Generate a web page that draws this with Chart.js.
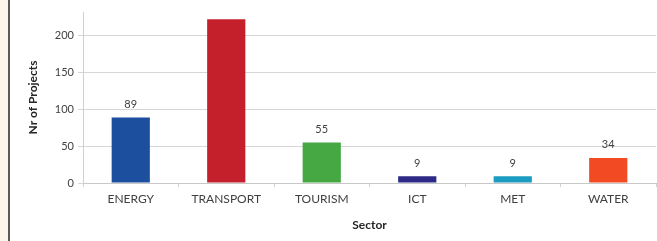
<!DOCTYPE html>
<html>
<head>
<meta charset="utf-8">
<script src="https://cdn.jsdelivr.net/npm/chart.js@4.4.0/dist/chart.umd.min.js"></script>
<style>
  html, body { margin: 0; padding: 0; background: #fff; }
  #wrap { position: relative; width: 657px; height: 241px; overflow: hidden; }
  #strip { position: absolute; left: 0; top: 0; width: 8px; height: 241px; background: #fdf5ea; border-right: 2px solid #595959; }
  #box { position: absolute; left: 10px; top: 0; width: 647px; height: 241px; }
</style>
</head>
<body>
<div id="wrap">
  <div id="strip"></div>
  <div id="box"><canvas id="chart"></canvas></div>
</div>
<script>
const sectors = ['ENERGY', 'TRANSPORT', 'TOURISM', 'ICT', 'MET', 'WATER'];
const projects = [89, 222, 55, 9, 9, 34];
const barColors = ['#1c4f9e', '#c4202b', '#45a843', '#2d2a87', '#1c9cc0', '#f24a22'];
const yTicks = [0, 50, 100, 150, 200];

const font = 'Lato, "Open Sans", sans-serif';

// value labels above the bars, hidden when they would fall outside the plot
const valueLabels = {
  id: 'valueLabels',
  afterDatasetsDraw(chart) {
    const ctx = chart.ctx;
    const meta = chart.getDatasetMeta(0);
    ctx.save();
    ctx.font = '11px ' + font;
    ctx.fillStyle = '#404040';
    ctx.textAlign = 'center';
    ctx.textBaseline = 'middle';
    meta.data.forEach((bar, i) => {
      const y = bar.y - 13;
      if (y < chart.chartArea.top) return;
      ctx.fillText(projects[i], bar.x, y);
    });
    ctx.restore();
  }
};

new Chart(document.getElementById('chart'), {
  type: 'bar',
  data: {
    labels: sectors,
    datasets: [{
      data: projects,
      backgroundColor: barColors,
      categoryPercentage: 1,
      barPercentage: 0.4
    }]
  },
  options: {
    responsive: true,
    maintainAspectRatio: false,
    animation: false,
    layout: { padding: { top: 12, right: 1, left: 0, bottom: 0 } },
    plugins: { legend: { display: false }, tooltip: { enabled: false } },
    scales: {
      x: {
        afterFit: (scale) => { scale.height = 58; },
        grid: { display: true, drawOnChartArea: false, drawTicks: true, tickLength: 4, color: '#d0d0d0' },
        border: { color: '#c8c8c8' },
        ticks: { color: '#404040', font: { family: font, size: 12 }, padding: 5 },
        title: { display: true, text: 'Sector', color: '#262626', font: { family: font, size: 12, weight: 'bold' }, padding: { top: 2, bottom: 9 } }
      },
      y: {
        min: 0,
        max: 232,
        afterFit: (scale) => { scale.width = 73; },
        afterBuildTicks: (scale) => { scale.ticks = yTicks.map(v => ({ value: v })); },
        grid: { color: '#d6d6d6', tickLength: 5, lineWidth: 1 },
        border: { color: '#d0d0d0' },
        ticks: { color: '#404040', font: { family: font, size: 11 }, padding: 4 },
        title: { display: true, text: 'Nr of Projects', color: '#262626', font: { family: font, size: 12, weight: 'bold' }, padding: { top: 16, bottom: 2 } }
      }
    }
  },
  plugins: [valueLabels]
});
</script>
</body>
</html>
